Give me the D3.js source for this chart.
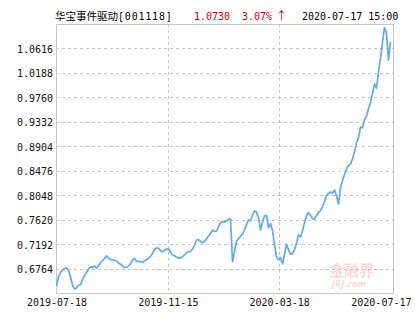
<!DOCTYPE html>
<html>
<head>
<meta charset="utf-8">
<script src="https://cdn.jsdelivr.net/npm/d3@7"></script>
<style>
body { margin: 0; background: #fff; }
</style>
</head>
<body>
<script>
var width = 415;
var height = 330;

// header texts
var fundName = "华宝事件驱动";
var fundCode = "[001118]";
var lastNav = "1.0730";
var changeText = "3.07%";
var arrowText = "↑";
var timeText = "2020-07-17 15:00";

// axis labels
var dateLabels = ["2019-07-18", "2019-11-15", "2020-03-18", "2020-07-17"];
var yTicks = [0.6764, 0.7192, 0.7620, 0.8048, 0.8476, 0.8904, 0.9332, 0.9760, 1.0188, 1.0616];
var yRange = [0.6336, 1.1044];

// unit nav (evenly spaced over the year)
var navValues = [
    0.6459, 0.6616, 0.6695, 0.6739, 0.6765, 0.6774, 0.6730, 0.6616, 0.6476, 0.6406,
    0.6424, 0.6471, 0.6480, 0.6571, 0.6644, 0.6691, 0.6751, 0.6791, 0.6788, 0.6809,
    0.6772, 0.6814, 0.6865, 0.6905, 0.6942, 0.6985, 0.6949, 0.6919, 0.6915, 0.6905,
    0.6900, 0.6866, 0.6840, 0.6809, 0.6782, 0.6781, 0.6809, 0.6845, 0.6917, 0.6942,
    0.6893, 0.6884, 0.6889, 0.6870, 0.6900, 0.6917, 0.6940, 0.6978, 0.7029, 0.7101,
    0.7124, 0.7124, 0.7076, 0.7057, 0.7083, 0.7103, 0.7111, 0.7050, 0.7006, 0.6987,
    0.6966, 0.6943, 0.6950, 0.6970, 0.7006, 0.7045, 0.7057, 0.7066, 0.7104, 0.7176,
    0.7264, 0.7272, 0.7237, 0.7215, 0.7236, 0.7288, 0.7332, 0.7377, 0.7433, 0.7416,
    0.7418, 0.7495, 0.7561, 0.7591, 0.7577, 0.7600, 0.7622, 0.7638, 0.6884, 0.7054,
    0.7246, 0.7290, 0.7330, 0.7367, 0.7439, 0.7533, 0.7612, 0.7600, 0.7701, 0.7775,
    0.7754, 0.7654, 0.7439, 0.7573, 0.7687, 0.7696, 0.7474, 0.7554, 0.7432, 0.7187,
    0.6963, 0.6921, 0.6957, 0.6844, 0.7012, 0.7194, 0.7089, 0.7015, 0.7020, 0.7089,
    0.7211, 0.7355, 0.7316, 0.7426, 0.7565, 0.7689, 0.7747, 0.7696, 0.7638, 0.7628,
    0.7692, 0.7745, 0.7780, 0.7846, 0.7934, 0.8041, 0.8083, 0.8104, 0.8086, 0.8139,
    0.8037, 0.7894, 0.8182, 0.8305, 0.8408, 0.8510, 0.8562, 0.8597, 0.8681, 0.8804,
    0.8968, 0.9054, 0.9241, 0.9229, 0.9374, 0.9428, 0.9563, 0.9670, 0.9831, 0.9990,
    0.9922, 1.0198, 1.0449, 1.0723, 1.0983, 1.0887, 1.0410, 1.0730
];

var plot = {left: 56, top: 24, right: 393, bottom: 293};
var monoFont = "'DejaVu Sans Mono', monospace";
var cjkFont = "'Noto Sans CJK SC', sans-serif";

var svg = d3.select("body").append("svg")
    .attr("width", width)
    .attr("height", height);

var n = navValues.length;
var x = d3.scaleLinear().domain([0, n - 1]).range([plot.left + 0.5, plot.right - 2.5]);
var y = d3.scaleLinear().domain(yRange).range([plot.bottom, plot.top]);

var xTickIdx = dateLabels.map(function (d, i) {
    return i * (n - 1) / (dateLabels.length - 1);
});

// horizontal dashed grid
svg.append("g")
    .selectAll("line")
    .data(yTicks)
    .enter()
    .append("line")
    .attr("x1", plot.left)
    .attr("x2", plot.right)
    .attr("y1", function (d) { return Math.round(y(d)) + 0.5; })
    .attr("y2", function (d) { return Math.round(y(d)) + 0.5; })
    .attr("stroke", "#c4c4c4")
    .attr("stroke-dasharray", "3,3");

// vertical dashed grid (inner ticks only)
svg.append("g")
    .selectAll("line")
    .data(xTickIdx.slice(1, -1))
    .enter()
    .append("line")
    .attr("x1", function (d) { return Math.round(x(d)) + 0.5; })
    .attr("x2", function (d) { return Math.round(x(d)) + 0.5; })
    .attr("y1", plot.top)
    .attr("y2", plot.bottom)
    .attr("stroke", "#c4c4c4")
    .attr("stroke-dasharray", "3,3");

// watermark
var wm = svg.append("g").attr("opacity", 0.45);
wm.append("text")
    .attr("x", 329)
    .attr("y", 276)
    .attr("font-family", cjkFont)
    .attr("font-size", 15)
    .attr("font-weight", "bold")
    .attr("fill", "#eab0b0")
    .text("金融界");
wm.append("text")
    .attr("x", 332)
    .attr("y", 287)
    .attr("font-family", "'DejaVu Sans', sans-serif")
    .attr("font-size", 8)
    .attr("font-style", "italic")
    .attr("font-weight", "bold")
    .attr("fill", "#eab0b0")
    .text("JRJ.com");

// frame
svg.append("rect")
    .attr("x", plot.left + 0.5)
    .attr("y", plot.top + 0.5)
    .attr("width", plot.right - plot.left)
    .attr("height", plot.bottom - plot.top)
    .attr("fill", "none")
    .attr("stroke", "#c8c8c8");

// nav line
var line = d3.line()
    .x(function (d, i) { return x(i); })
    .y(function (d) { return y(d); });

svg.append("path")
    .datum(navValues)
    .attr("d", line)
    .attr("fill", "none")
    .attr("stroke", "#62a9f0")
    .attr("stroke-width", 1.7)
    .attr("stroke-linejoin", "round");

// y axis labels
var yAxis = svg.append("g")
    .attr("transform", "translate(" + plot.left + ",0)")
    .call(d3.axisLeft(y).tickValues(yTicks).tickFormat(d3.format(".4f")).tickSize(0).tickPadding(3));
yAxis.select(".domain").remove();
yAxis.selectAll("text")
    .attr("dy", "0.4em")
    .attr("font-family", monoFont)
    .attr("font-size", 10)
    .attr("fill", "#111");

// x axis labels
var xAxis = svg.append("g")
    .attr("transform", "translate(0," + plot.bottom + ")")
    .call(d3.axisBottom(x).tickValues(xTickIdx)
        .tickFormat(function (d, i) { return dateLabels[i]; })
        .tickSize(0).tickPadding(6));
xAxis.select(".domain").remove();
xAxis.selectAll("text")
    .attr("font-family", monoFont)
    .attr("font-size", 10)
    .attr("fill", "#111");
// keep the last date inside the picture
xAxis.selectAll(".tick").filter(function (d, i) { return i === dateLabels.length - 1; })
    .select("text")
    .attr("text-anchor", "end")
    .attr("x", width - 4 - x(n - 1));

// header
svg.append("text")
    .attr("x", 55)
    .attr("y", 19.5)
    .attr("font-family", cjkFont)
    .attr("font-size", 10.5)
    .attr("fill", "#000")
    .text(fundName);
svg.append("text")
    .attr("x", 118)
    .attr("y", 19.5)
    .attr("font-family", monoFont)
    .attr("font-size", 10)
    .attr("letter-spacing", 0.8)
    .attr("fill", "#000")
    .text(fundCode);
svg.append("text")
    .attr("x", 194)
    .attr("y", 19.5)
    .attr("font-family", monoFont)
    .attr("font-size", 10)
    .attr("fill", "#d40000")
    .text(lastNav);
svg.append("text")
    .attr("x", 242)
    .attr("y", 19.5)
    .attr("font-family", monoFont)
    .attr("font-size", 10)
    .attr("fill", "#d40000")
    .text(changeText);
svg.append("text")
    .attr("x", 276)
    .attr("y", 20)
    .attr("font-family", cjkFont)
    .attr("font-size", 11)
    .attr("fill", "#d40000")
    .text(arrowText);
svg.append("text")
    .attr("x", 302)
    .attr("y", 19.5)
    .attr("font-family", monoFont)
    .attr("font-size", 10)
    .attr("fill", "#000")
    .text(timeText);
</script>
</body>
</html>
